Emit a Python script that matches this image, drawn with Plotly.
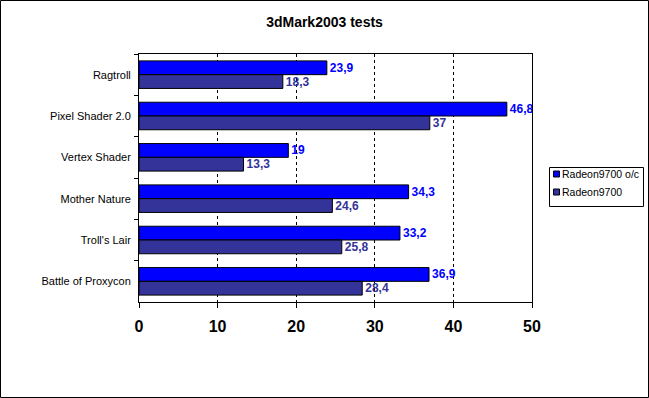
import plotly.graph_objects as go

# ---- data ----
categories = ["Ragtroll", "Pixel Shader 2.0", "Vertex Shader", "Mother Nature",
              "Troll's Lair", "Battle of Proxycon"]
series_names = ["Radeon9700 o/c", "Radeon9700"]
radeon_oc = [23.9, 46.8, 19, 34.3, 33.2, 36.9]
radeon = [18.3, 37, 13.3, 24.6, 25.8, 28.4]
x_ticks = [0, 10, 20, 30, 40, 50]
title_text = "3dMark2003 tests"

colors = ["#0000FF", "#333399"]
FONT = "Arial, Liberation Sans, sans-serif"

W, H = 649, 398
L, R, T, B = 139, 532, 54, 302  # plot area pixel bounds


def px(xp):
    return (xp - L) / (R - L)


def py(yp):
    return (B - yp) / (B - T)


def fmt(v):
    return f"{v:g}".replace(".", ",")


fig = go.Figure()
for name, vals, col in zip(series_names, [radeon_oc, radeon], colors):
    fig.add_trace(go.Bar(
        y=categories, x=vals, orientation="h", name=name,
        marker=dict(color=col, line=dict(color="black", width=1)),
        text=[fmt(v) for v in vals], textposition="outside",
        textfont=dict(family=FONT, size=12, color=col, weight="bold"),
        cliponaxis=False, constraintext="none", showlegend=False,
    ))

shapes = [
    # outer border
    dict(type="rect", xref="paper", yref="paper",
         x0=px(0.5), x1=px(W - 0.5), y0=py(H - 0.5), y1=py(0.5),
         line=dict(color="black", width=1), fillcolor="rgba(0,0,0,0)"),
    # legend box
    dict(type="rect", xref="paper", yref="paper",
         x0=px(549.5), x1=px(643.5), y0=py(206.5), y1=py(167.5),
         line=dict(color="black", width=1), fillcolor="white"),
]
annotations = []
for i, (name, col) in enumerate(zip(series_names, colors)):
    cy = 174 + 18 * i
    shapes.append(dict(type="rect", xref="paper", yref="paper",
                       x0=px(553.5), x1=px(559.5), y0=py(cy + 3), y1=py(cy - 3),
                       line=dict(color="black", width=1), fillcolor=col))
    annotations.append(dict(xref="paper", yref="paper", x=px(560), y=py(cy),
                            xanchor="left", yanchor="middle", showarrow=False,
                            text=name, font=dict(family=FONT, size=10.5, color="black")))

fig.update_layout(
    width=W, height=H,
    margin=dict(l=L, r=W - R, t=T, b=H - B, pad=0),
    paper_bgcolor="white", plot_bgcolor="white",
    barmode="group", bargap=0.334, bargroupgap=0,
    showlegend=False,
    title=dict(text=title_text, x=324.5 / W, xanchor="center",
               y=1 - 22 / H, yanchor="middle",
               font=dict(family=FONT, size=14, color="black", weight="bold")),
    xaxis=dict(range=[0, 50], tickvals=x_ticks, ticktext=[str(t) for t in x_ticks],
               showgrid=True, gridcolor="black", gridwidth=1, griddash="3px,3px",
               showline=True, linecolor="black", linewidth=1, mirror=True,
               ticks="outside", ticklen=5, tickcolor="black", tickwidth=1,
               ticklabelstandoff=5,
               tickfont=dict(family=FONT, size=16, color="black", weight="bold"),
               zeroline=False, fixedrange=True),
    yaxis=dict(autorange="reversed", showgrid=False,
               showline=True, linecolor="black", linewidth=1, mirror=True,
               ticks="outside", ticklen=4, tickcolor="black", tickwidth=1,
               tickson="boundaries", ticklabelstandoff=5,
               tickfont=dict(family=FONT, size=11, color="black"),
               fixedrange=True),
    shapes=shapes, annotations=annotations,
)

fig.write_html("out.html", config={"displayModeBar": False},
               post_script="document.body.style.margin='0';document.body.style.padding='0';")
